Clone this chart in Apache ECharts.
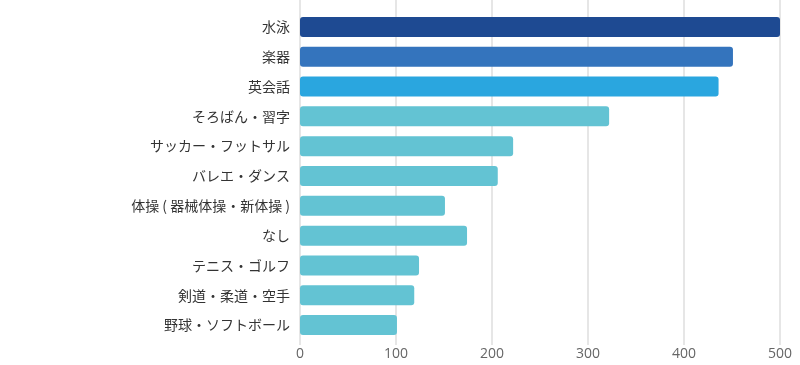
<!DOCTYPE html>
<html><head><meta charset="utf-8">
<script src="https://cdn.jsdelivr.net/npm/echarts@6/dist/echarts.min.js"></script>
<style>html,body{margin:0;padding:0;background:#fff}#c{width:800px;height:365px}</style>
</head><body><div id="c"></div>
<script>
const categories = ['水泳','楽器','英会話','そろばん・習字','サッカー・フットサル','バレエ・ダンス','体操 ( 器械体操・新体操 )','なし','テニス・ゴルフ','剣道・柔道・空手','野球・ソフトボール'];
const values = [500, 451, 436, 322, 222, 206, 151, 174, 124, 119, 101];
const barColors = ['#1e4a92','#3474bd','#2aa6df','#63c3d3','#63c3d3','#63c3d3','#63c3d3','#63c3d3','#63c3d3','#63c3d3','#63c3d3'];
const xTicks = [0, 100, 200, 300, 400, 500];

const chart = echarts.init(document.getElementById('c'));
chart.setOption({
  animation: false,
  grid: [
    {left: 300, right: 20, top: 12, bottom: 25},
    {left: 300, right: 20, top: 0, bottom: 20}
  ],
  xAxis: [
    {gridIndex: 0, type: 'value', min: xTicks[0], max: xTicks[xTicks.length-1], interval: 100,
     axisLine: {show: false}, axisTick: {show: false}, splitLine: {show: false},
     axisLabel: {color: '#666', fontSize: 14, fontFamily: 'Open Sans', margin: 7}},
    {gridIndex: 1, type: 'value', min: xTicks[0], max: xTicks[xTicks.length-1], interval: 100,
     axisLine: {show: false}, axisTick: {show: false}, axisLabel: {show: false},
     splitLine: {show: true, lineStyle: {color: '#dedede', width: 1.5}}}
  ],
  yAxis: [
    {gridIndex: 0, type: 'category', data: categories, inverse: true,
     axisLine: {show: false}, axisTick: {show: false},
     axisLabel: {color: '#333', fontSize: 14, fontFamily: 'Noto Sans CJK JP', margin: 10}},
    {gridIndex: 1, type: 'category', data: [''], show: false}
  ],
  series: [{
    type: 'bar', xAxisIndex: 0, yAxisIndex: 0, z: 5,
    barWidth: 20,
    data: values.map((v, i) => ({value: v, itemStyle: {color: barColors[i]}})),
    itemStyle: {borderRadius: 3}
  }]
});
</script></body></html>
